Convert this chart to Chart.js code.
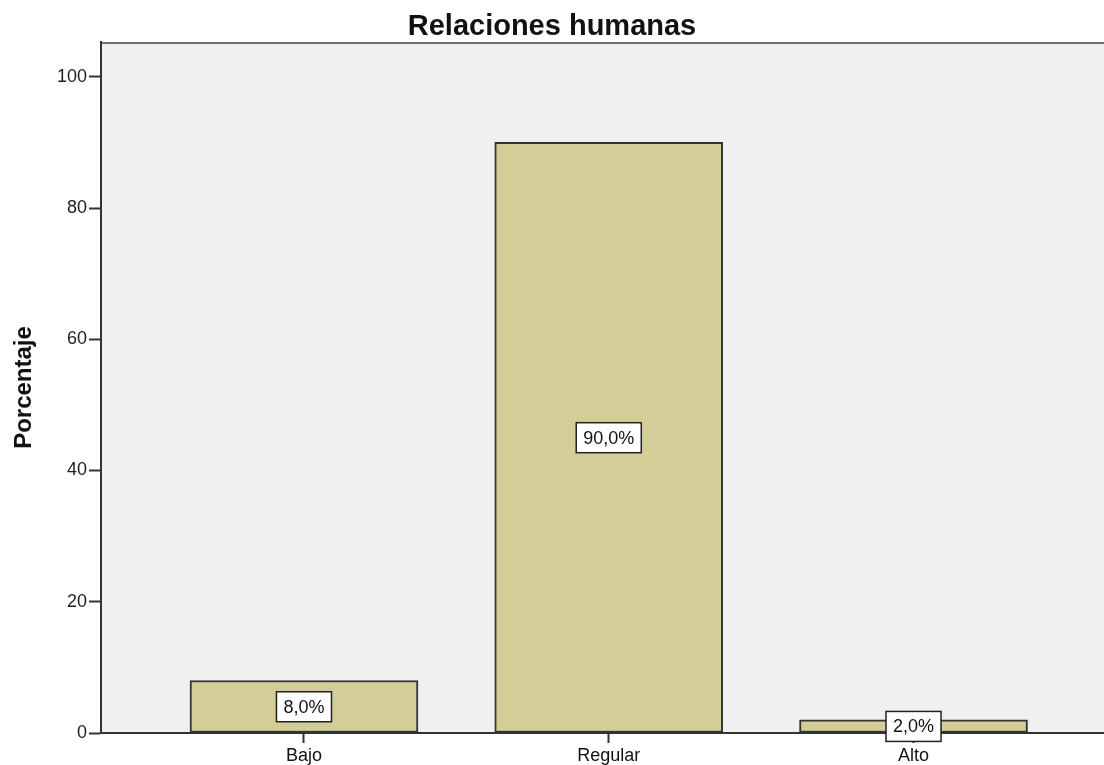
<!DOCTYPE html>
<html>
<head>
<meta charset="utf-8">
<script src="https://cdn.jsdelivr.net/npm/chart.js@4/dist/chart.umd.min.js"></script>
<style>
  html, body { margin: 0; padding: 0; background: #fff; overflow: hidden; }
  #wrap { width: 1104px; height: 765px; }
</style>
</head>
<body>
<div id="wrap"><canvas id="myChart" width="1104" height="765"></canvas></div>
<script>
const categories = ["Bajo", "Regular", "Alto"];
const values = [8.0, 90.0, 2.0];
const yTicks = [0, 20, 40, 60, 80, 100];

const font = "'Liberation Sans', Arial, sans-serif";

// plot background + top border
const plotBox = {
    id: 'plotBox',
    beforeDraw(chart) {
        const a = chart.chartArea, c = chart.ctx;
        c.save();
        c.fillStyle = '#f0f0f0';
        c.fillRect(a.left, a.top, a.right - a.left, a.bottom - a.top);
        c.strokeStyle = '#6e6e6e';
        c.lineWidth = 2;
        c.beginPath();
        c.moveTo(a.left, a.top + 1);
        c.lineTo(a.right, a.top + 1);
        c.stroke();
        c.restore();
    }
};

// value boxes in the middle of each bar
const valueBoxes = {
    id: 'valueBoxes',
    afterDatasetsDraw(chart) {
        const c = chart.ctx;
        const xs = chart.scales.x, ys = chart.scales.y;
        c.save();
        c.font = '18px ' + font;
        c.textAlign = 'center';
        c.textBaseline = 'middle';
        values.forEach((v, i) => {
            const txt = v.toFixed(1).replace('.', ',') + '%';
            const x = xs.getPixelForValue(i + 1);
            const y = ys.getPixelForValue(v / 2);
            const w = c.measureText(txt).width + 14;
            const h = 30;
            c.fillStyle = '#fff';
            c.fillRect(x - w / 2, y - h / 2, w, h);
            c.strokeStyle = '#222';
            c.lineWidth = 1.5;
            c.strokeRect(x - w / 2, y - h / 2, w, h);
            c.fillStyle = '#111';
            c.fillText(txt, x, y + 1);
        });
        c.restore();
    }
};

const data = {
    datasets: [{
        data: values.map((v, i) => ({ x: i + 1, y: v })),
        backgroundColor: '#d3ce97',
        borderColor: '#333',
        borderWidth: 2,
        borderSkipped: false,
        barThickness: 228,
    }],
};

const config = {
    type: 'bar',
    data: data,
    options: {
        responsive: false,
        animation: false,
        layout: { padding: { left: 0, right: 0, top: 0, bottom: 0 } },
        plugins: {
            legend: { display: false },
            tooltip: { enabled: false },
            title: {
                display: true,
                text: 'Relaciones humanas',
                color: '#111',
                font: { family: font, size: 29, weight: 'bold', lineHeight: 1.0 },
                padding: { top: 12, bottom: 1 },
            },
        },
        scales: {
            x: {
                type: 'linear',
                offset: false,
                min: 0.334,
                max: 3.625,
                afterBuildTicks: s => { s.ticks = categories.map((c, i) => ({ value: i + 1 })); },
                afterFit: s => { s.height = 32; },
                grid: { offset: false, drawOnChartArea: false, drawTicks: true, tickLength: 10, tickColor: '#333', tickWidth: 2 },
                border: { display: true, color: '#333', width: 2 },
                ticks: {
                    padding: 2,
                    color: '#111',
                    font: { family: font, size: 18 },
                    callback: v => categories[v - 1] || '',
                },
            },
            y: {
                min: 0,
                max: 105.3,
                afterBuildTicks: s => { s.ticks = yTicks.map(v => ({ value: v })); },
                afterFit: s => { s.width = 101; },
                grid: { drawOnChartArea: false, drawTicks: true, tickLength: 12, tickColor: '#333', tickWidth: 2 },
                border: { display: true, color: '#333', width: 2 },
                title: {
                    display: true,
                    text: 'Porcentaje',
                    color: '#111',
                    font: { family: font, size: 24, weight: 'bold' },
                    padding: { top: 10, bottom: 0 },
                },
                ticks: {
                    padding: 2,
                    color: '#222',
                    font: { family: font, size: 18 },
                },
            },
        },
    },
    plugins: [plotBox, valueBoxes],
};

const myChart = new Chart(document.getElementById('myChart').getContext('2d'), config);
</script>
</body>
</html>
